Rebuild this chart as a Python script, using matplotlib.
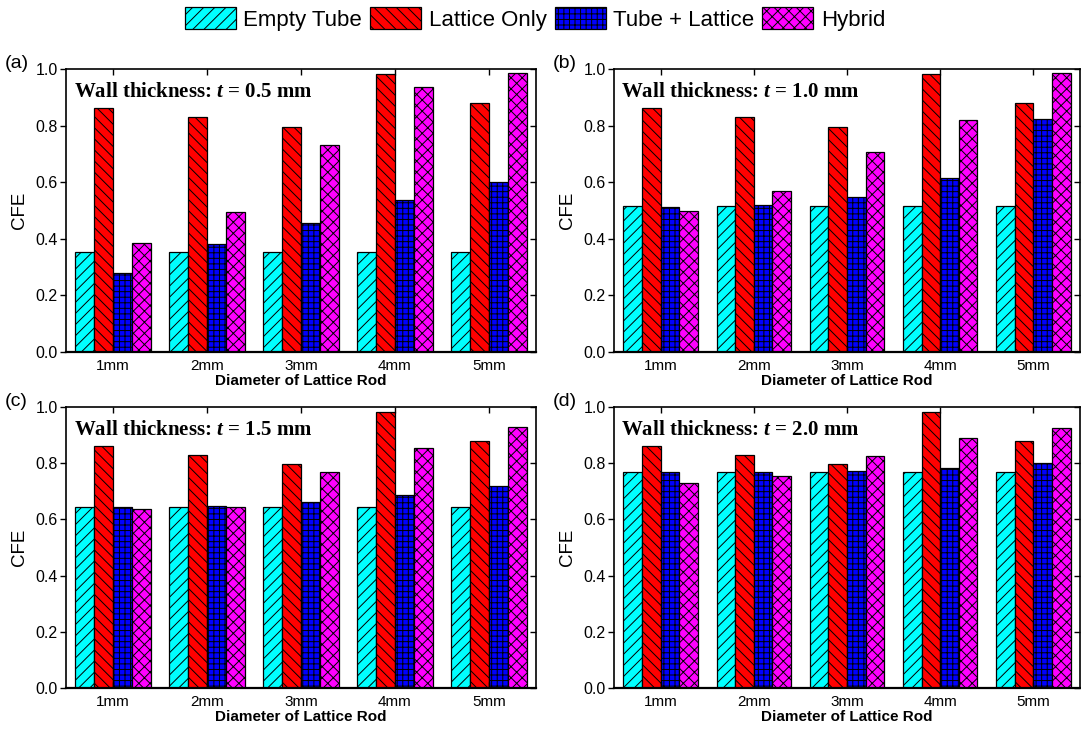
import matplotlib
matplotlib.use("Agg")
import matplotlib.pyplot as plt
import numpy as np

plt.rcParams['font.family'] = ['Liberation Sans', 'DejaVu Sans']
plt.rcParams['hatch.linewidth'] = 0.7
plt.rcParams['mathtext.fontset'] = 'custom'
plt.rcParams['mathtext.it'] = 'Liberation Serif:bold:italic'
plt.rcParams['mathtext.rm'] = 'Liberation Serif:bold'

categories = ["1mm", "2mm", "3mm", "4mm", "5mm"]
series_names = ["Empty Tube", "Lattice Only", "Tube + Lattice", "Hybrid"]
panel_labels = ["(a)", "(b)", "(c)", "(d)"]
thickness_labels = ["0.5", "1.0", "1.5", "2.0"]

lattice_only = [0.862, 0.829, 0.796, 0.981, 0.879]

empty_a = [0.355, 0.355, 0.355, 0.355, 0.355]
tube_lat_a = [0.279, 0.383, 0.456, 0.537, 0.600]
hybrid_a = [0.384, 0.494, 0.730, 0.935, 0.985]

empty_b = [0.515, 0.515, 0.515, 0.515, 0.515]
tube_lat_b = [0.513, 0.518, 0.547, 0.616, 0.822]
hybrid_b = [0.498, 0.569, 0.705, 0.820, 0.987]

empty_c = [0.643, 0.643, 0.643, 0.643, 0.643]
tube_lat_c = [0.643, 0.646, 0.661, 0.686, 0.718]
hybrid_c = [0.636, 0.643, 0.768, 0.855, 0.930]

empty_d = [0.769, 0.769, 0.769, 0.769, 0.769]
tube_lat_d = [0.769, 0.768, 0.773, 0.782, 0.802]
hybrid_d = [0.731, 0.754, 0.826, 0.890, 0.924]

panels = [
    [empty_a, lattice_only, tube_lat_a, hybrid_a],
    [empty_b, lattice_only, tube_lat_b, hybrid_b],
    [empty_c, lattice_only, tube_lat_c, hybrid_c],
    [empty_d, lattice_only, tube_lat_d, hybrid_d],
]

colors = ["#00FFFF", "#FF0000", "#0000FF", "#FF00FF"]
hatches = ["///", "\\\\\\", "+++", "xxx"]

W, H = 1081, 732
fig = plt.figure(figsize=(W / 100, H / 100), dpi=100)

# axes boxes in pixels: left, right, top, bottom
boxes = [
    (66, 536, 69, 352),
    (614, 1080, 69, 352),
    (66, 536, 407, 688),
    (614, 1080, 407, 688),
]

yt = [0.0, 0.2, 0.4, 0.6, 0.8, 1.0]
x = np.arange(1, len(categories) + 1)
bw = 0.2
handles = None
for i, (box, data) in enumerate(zip(boxes, panels)):
    l, r, t, b = box
    ax = fig.add_axes([l / W, 1 - b / H, (r - l) / W, (b - t) / H])
    bars = []
    for j, vals in enumerate(data):
        bc = ax.bar(x + (j - 1.5) * bw, vals, bw, color=colors[j],
                    hatch=hatches[j], edgecolor="black", linewidth=0.9,
                    label=series_names[j])
        bars.append(bc)
    if handles is None:
        handles = bars
    ax.set_xlim(0.5, 5.5)
    ax.set_ylim(0, 1.0)
    ax.set_yticks(yt)
    ax.set_yticklabels(["%.1f" % v for v in yt])
    ax.set_xticks(x)
    ax.set_xticklabels(categories)
    ax.tick_params(axis="y", direction="out", length=4, width=1,
                   labelsize=11.5, pad=2, right=False)
    ax.tick_params(axis="x", direction="in", length=4, width=1,
                   labelsize=11, top=True, pad=5)
    sec_y = ax.secondary_yaxis("right")
    sec_y.set_yticks(yt)
    sec_y.tick_params(direction="in", length=4, width=1, labelright=False)
    sec_y.spines["right"].set_visible(False)
    for s in ax.spines.values():
        s.set_linewidth(1.2)
    ax.spines["bottom"].set_linewidth(1.6)
    ax.set_ylabel("CFE", fontsize=13.5, labelpad=5)
    ax.set_xlabel("Diameter of Lattice Rod", fontsize=11,
                  fontweight="bold", labelpad=1)
    ax.text(0.016, 0.955, "Wall thickness: $t$ = " + thickness_labels[i] + " mm",
            transform=ax.transAxes, ha="left", va="top",
            family="Liberation Serif", fontweight="bold", fontsize=15)
    fig.text((l - 61) / W, 1 - (t - 6) / H, panel_labels[i], fontsize=14,
             ha="left", va="center")

fig.legend(handles=handles, labels=series_names, loc="center",
           bbox_to_anchor=(0.495, 1 - 19 / H), ncol=4, frameon=False,
           fontsize=16, handlelength=2.3, handleheight=1.1,
           handletextpad=0.35, columnspacing=0.35, borderaxespad=0)

fig.savefig("out.png", dpi=100)
